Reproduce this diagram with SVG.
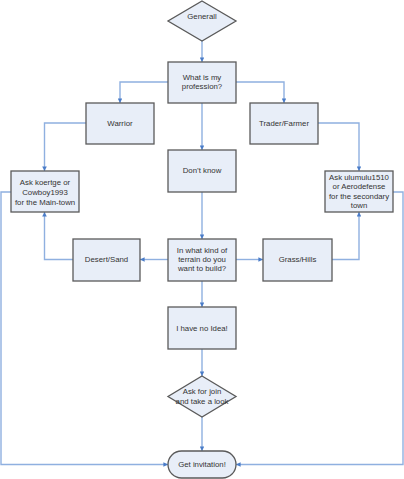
<svg xmlns="http://www.w3.org/2000/svg" width="404" height="479" viewBox="0 0 404 479">
<defs>
<style>
.n{fill:#e8eef8;stroke:#5a5a5a;stroke-width:1.3}
.t{font-family:"Liberation Sans",Arial,sans-serif;font-size:7.8px;fill:#333;text-anchor:middle}
.c{fill:none;stroke:#8fb0e0;stroke-width:1.4}
</style>
<marker id="a" viewBox="0 0 10 10" refX="10" refY="5" markerWidth="4.6" markerHeight="4.6" orient="auto" markerUnits="userSpaceOnUse">
<path d="M0,0 L10,5 L0,10 z" fill="#4a7cc8"/>
</marker>
</defs>
<rect width="404" height="479" fill="#fff"/>
<g id="connectors">
<path class="c" marker-end="url(#a)" d="M202,41 V62"/>
<path class="c" marker-end="url(#a)" d="M168,82 H120 V103"/>
<path class="c" marker-end="url(#a)" d="M236,82 H284 V103"/>
<path class="c" marker-end="url(#a)" d="M202,103 V150"/>
<path class="c" marker-end="url(#a)" d="M86,123 H44.5 V171"/>
<path class="c" marker-end="url(#a)" d="M318,123 H359 V171"/>
<path class="c" marker-end="url(#a)" d="M202,192 V239"/>
<path class="c" marker-end="url(#a)" d="M168,259.5 H140"/>
<path class="c" marker-end="url(#a)" d="M236,259.5 H263"/>
<path class="c" marker-end="url(#a)" d="M73,259.5 H44.5 V212"/>
<path class="c" marker-end="url(#a)" d="M332,259.5 H359 V212"/>
<path class="c" marker-end="url(#a)" d="M202,281 V307"/>
<path class="c" marker-end="url(#a)" d="M202,349 V376"/>
<path class="c" marker-end="url(#a)" d="M202,417 V451"/>
<path class="c" marker-end="url(#a)" d="M11,192 H1 V464.5 H168"/>
<path class="c" marker-end="url(#a)" d="M393,192 H403 V464.5 H236"/>
</g>
<g id="generall">
<polygon class="n" points="202,1 236,21 202,41 168,21"/>
<text class="t" x="202" y="18.5">Generall</text>
</g>
<g id="profession">
<rect class="n" x="168" y="62" width="68" height="41"/>
<text class="t" x="202" y="80">What is my</text>
<text class="t" x="202" y="89">profession?</text>
</g>
<g id="warrior">
<rect class="n" x="86" y="103" width="68" height="41"/>
<text class="t" x="120" y="125.5">Warrior</text>
</g>
<g id="trader">
<rect class="n" x="250" y="103" width="68" height="41"/>
<text class="t" x="284" y="125.5">Trader/Farmer</text>
</g>
<g id="dontknow">
<rect class="n" x="168" y="150" width="68" height="42"/>
<text class="t" x="202" y="173">Don’t know</text>
</g>
<g id="koertge">
<rect class="n" x="11" y="171" width="68" height="41"/>
<text class="t" x="45" y="185">Ask koertge or</text>
<text class="t" x="45" y="195.3">Cowboy1993</text>
<text class="t" x="45" y="205">for the Main-town</text>
</g>
<g id="ulumulu">
<rect class="n" x="325" y="171" width="68" height="41"/>
<text class="t" x="359" y="179.5">Ask ulumulu1510</text>
<text class="t" x="359" y="189">or Aerodefense</text>
<text class="t" x="359" y="198.5">for the secondary</text>
<text class="t" x="359" y="207.5">town</text>
</g>
<g id="terrain">
<rect class="n" x="168" y="239" width="68" height="42"/>
<text class="t" x="202" y="252.5">In what kind of</text>
<text class="t" x="202" y="261.5">terrain do you</text>
<text class="t" x="202" y="270.8">want to build?</text>
</g>
<g id="desert">
<rect class="n" x="73" y="239" width="67" height="42"/>
<text class="t" x="106.5" y="262.2">Desert/Sand</text>
</g>
<g id="grass">
<rect class="n" x="263" y="239" width="69" height="42"/>
<text class="t" x="297.5" y="262.2">Grass/Hills</text>
</g>
<g id="noidea">
<rect class="n" x="168" y="307" width="68" height="42"/>
<text class="t" x="202" y="330.5">I have no Idea!</text>
</g>
<g id="askjoin">
<polygon class="n" points="202,376 236,396.5 202,417 168,396.5"/>
<text class="t" x="202" y="393.8">Ask for join</text>
<text class="t" x="202" y="403.5">and take a look</text>
</g>
<g id="invitation">
<rect class="n" x="168" y="451" width="68" height="27" rx="13.5" ry="13.5"/>
<text class="t" x="202" y="467.2">Get invitation!</text>
</g>
</svg>
